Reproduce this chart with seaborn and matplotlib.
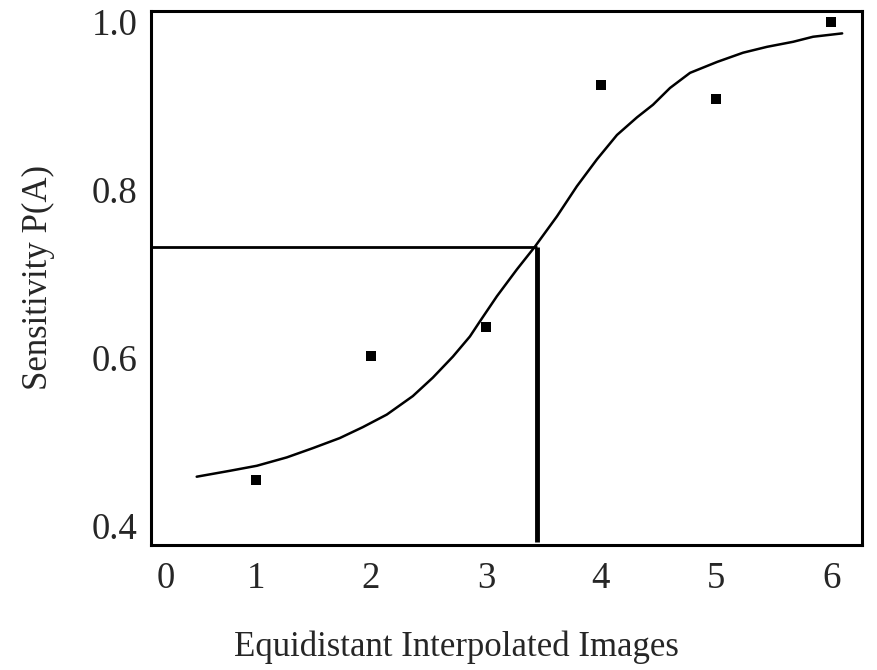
import numpy as np
import pandas as pd
import matplotlib
matplotlib.use("Agg")
import matplotlib.pyplot as plt
import seaborn as sns

# measured points (images 1..6)
images = [1, 2, 3, 4, 5, 6]
sensitivity = [0.454, 0.602, 0.636, 0.924, 0.908, 0.999]

# fitted curve
curve_x = [0.487, 0.774, 1.009, 1.270, 1.496, 1.730, 1.930, 2.139, 2.365, 2.539,
           2.713, 2.861, 2.948, 3.096, 3.270, 3.426, 3.617, 3.791, 3.965, 4.139,
           4.313, 4.452, 4.600, 4.774, 5.009, 5.235, 5.443, 5.670, 5.843, 6.096]
curve_y = [0.458, 0.465, 0.471, 0.481, 0.492, 0.504, 0.517, 0.532, 0.554, 0.576,
           0.601, 0.625, 0.643, 0.673, 0.705, 0.732, 0.768, 0.804, 0.836, 0.865,
           0.886, 0.901, 0.921, 0.939, 0.952, 0.963, 0.970, 0.976, 0.982, 0.986]

# threshold read-off
thr_x = 3.44
thr_y = 0.731

x_ticklabels = ["0", "1", "2", "3", "4", "5", "6"]
y_ticks = [0.4, 0.6, 0.8, 1.0]

sns.set_style("white")
plt.rcParams["font.family"] = ["Liberation Serif", "DejaVu Serif"]

fig = plt.figure(figsize=(8.78, 6.7), dpi=100)
ax = fig.add_axes([0.172, 0.187, 0.81, 0.797])

pts = pd.DataFrame({"x": images, "y": sensitivity})
fit = pd.DataFrame({"x": curve_x, "y": curve_y})

sns.lineplot(data=fit, x="x", y="y", ax=ax, color="black", linewidth=1.8,
             sort=False, estimator=None)
sns.scatterplot(data=pts, x="x", y="y", ax=ax, marker="s", s=55,
                color="black", edgecolor="black", linewidth=0, zorder=3)

ax.set_xlim(0.09, 6.27)
ax.set_ylim(0.377, 1.013)

ax.hlines(thr_y, ax.get_xlim()[0], thr_x, color="black", linewidth=2.0)
ax.vlines(thr_x, ax.get_ylim()[0] + 0.003, thr_y, color="black", linewidth=3.5)

# the "0" label sits just right of the y axis in the original
ax.set_xticks([0.22, 1, 2, 3, 4, 5, 6])
ax.set_xticklabels(x_ticklabels)
ax.set_yticks(y_ticks)
ax.set_yticklabels([f"{v:.1f}" for v in y_ticks])
ax.tick_params(axis="both", length=0, labelsize=26.5)
ax.tick_params(axis="x", pad=12)
ax.tick_params(axis="y", pad=10)

ax.set_xlabel("Equidistant Interpolated Images", fontsize=25)
ax.xaxis.set_label_coords(0.43, -0.16)
ax.set_ylabel("Sensitivity P(A)", fontsize=25, labelpad=26)

for s in ax.spines.values():
    s.set_visible(True)
    s.set_color("black")
    s.set_linewidth(2.2)

fig.savefig("out.png", dpi=100)
